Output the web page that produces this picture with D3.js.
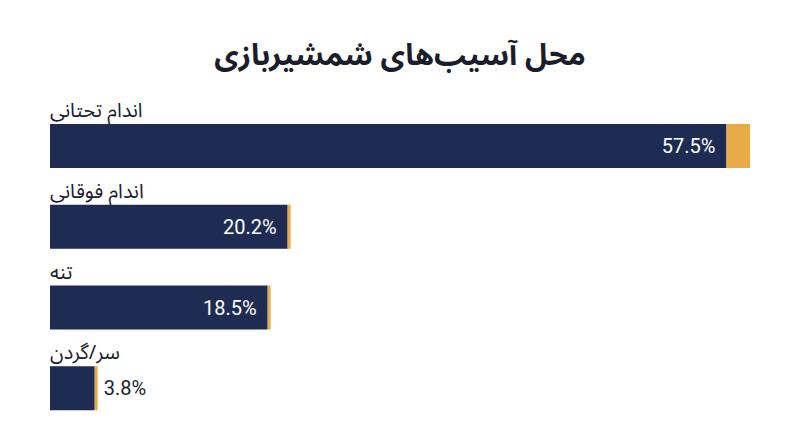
<!DOCTYPE html>
<html>
<head>
<meta charset="utf-8">
<script src="https://cdn.jsdelivr.net/npm/d3@7"></script>
<style>
  body { margin: 0; background: #ffffff; }
  svg { display: block; }
</style>
</head>
<body>
<div id="chart"></div>
<script>
// Data
let categories = ["اندام تحتانی", "اندام فوقانی", "تنه", "سر/گردن"];
let values = [57.5, 20.2, 18.5, 3.8];
let accentValues = [2.0, 0.25, 0.25, 0.25];
let title = "محل آسیب‌های شمشیربازی";

// Set up the svg area size
let svgWidth = 800;
let svgHeight = 447;

let margin = { top: 100, right: 50, bottom: 30, left: 50 };

let svg = d3.select("#chart")
  .append("svg")
  .attr("width", svgWidth)
  .attr("height", svgHeight);

let navy = "#1e2c54";
let orange = "#e8a947";
let ink = "#1b1d2a";

// Title
svg.append("text")
  .attr("x", svgWidth / 2)
  .attr("y", 65)
  .attr("text-anchor", "middle")
  .style("font-family", "'Noto Sans Arabic', 'DejaVu Sans', sans-serif")
  .style("font-weight", "bold")
  .style("font-size", "30px")
  .style("fill", ink)
  .text(title);

// Scales
let xScale = d3.scaleLinear()
  .domain([0, 59.5])
  .range([margin.left, svgWidth - margin.right]);

// each row = label + bar, band holds both
let yScale = d3.scaleBand()
  .domain(categories)
  .range([96, 419])
  .paddingInner(0);

let barHeight = 44;
let labelSpace = 28;

let rows = svg.selectAll(".row")
  .data(categories)
  .enter()
  .append("g")
  .attr("class", "row")
  .attr("transform", d => `translate(0, ${yScale(d)})`);

// category labels above bars
rows.append("text")
  .attr("x", margin.left)
  .attr("y", 21)
  .attr("text-anchor", "start")
  .style("font-family", "'Noto Sans Arabic', 'DejaVu Sans', sans-serif")
  .style("font-size", "20px")
  .style("fill", ink)
  .text(d => d);

// main bar
rows.append("rect")
  .attr("x", xScale(0))
  .attr("y", labelSpace)
  .attr("height", barHeight)
  .attr("width", (d, i) => xScale(values[i]) - xScale(0))
  .attr("fill", navy);

// orange accent stacked on the end
rows.append("rect")
  .attr("x", (d, i) => xScale(values[i]))
  .attr("y", labelSpace)
  .attr("height", barHeight)
  .attr("width", (d, i) => xScale(values[i] + accentValues[i]) - xScale(values[i]))
  .attr("fill", orange);

// value labels: inside when the bar is wide enough, outside otherwise
rows.append("text")
  .attr("x", (d, i) => values[i] > 10
    ? xScale(values[i]) - 11
    : xScale(values[i] + accentValues[i]) + 6)
  .attr("y", labelSpace + barHeight / 2)
  .attr("dy", "0.36em")
  .attr("text-anchor", (d, i) => values[i] > 10 ? "end" : "start")
  .style("font-family", "Roboto, sans-serif")
  .style("font-size", "20px")
  .style("fill", (d, i) => values[i] > 10 ? "#ffffff" : ink)
  .text((d, i) => values[i].toFixed(1) + "%");
</script>
</body>
</html>
